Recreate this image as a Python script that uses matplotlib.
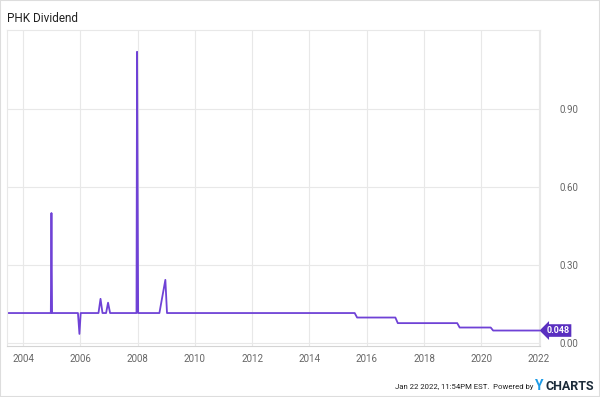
import pandas as pd
import matplotlib
matplotlib.use("Agg")
import matplotlib.pyplot as plt
import matplotlib.dates as mdates
import matplotlib.transforms as mtransforms
from matplotlib.patches import Rectangle

plt.rcParams["font.family"] = ["Roboto", "DejaVu Sans"]

# PHK dividend key points
dates = ["2003-06-01", "2004-12-20", "2004-12-28", "2005-01-05",
         "2005-12-01", "2005-12-20", "2006-01-05",
         "2006-08-20", "2006-09-15", "2006-10-10",
         "2006-11-25", "2006-12-20", "2007-01-15",
         "2007-12-18", "2007-12-25", "2008-01-08",
         "2008-10-05", "2008-12-20", "2009-01-10",
         "2015-08-01", "2015-09-01", "2017-01-01", "2017-02-01",
         "2019-03-01", "2019-04-01", "2020-05-01", "2020-06-01",
         "2022-01-15"]
dividend = [0.1153, 0.1153, 0.50, 0.1153,
            0.1153, 0.035, 0.1153,
            0.1153, 0.17, 0.1153,
            0.1153, 0.155, 0.1153,
            0.1153, 1.12, 0.1153,
            0.1153, 0.243, 0.1153,
            0.1153, 0.098, 0.098, 0.0765,
            0.0765, 0.0596, 0.0596, 0.048,
            0.048]
last_value = 0.048
y_ticks = [0.0, 0.3, 0.6, 0.9]
x_years = list(range(2004, 2023, 2))

dates = pd.to_datetime(dates)

fig = plt.figure(figsize=(6, 3.97), dpi=100)
ax = fig.add_axes([7 / 600, 1 - 346 / 397, 533 / 600, 316 / 397])

ax.plot(dates, dividend, color="#6f42d6", lw=1.3)

ax.set_xlim(pd.Timestamp("2003-06-10"), pd.Timestamp("2022-01-20"))
ax.set_ylim(-0.0115, 1.204)

ax.set_xticks([pd.Timestamp(f"{y}-01-01") for y in x_years])
ax.xaxis.set_major_formatter(mdates.DateFormatter("%Y"))
ax.set_yticks(y_ticks)
ax.set_yticklabels([f"{v:.2f}" for v in y_ticks])
ax.yaxis.tick_right()

ax.grid(True, color="#e8e8e8", lw=0.8)
ax.set_axisbelow(True)
for side in ["top", "left", "right"]:
    ax.spines[side].set_color("#e8e8e8")
ax.spines["bottom"].set_color("#d4d4d4")
ax.tick_params(length=0, labelsize=7, labelcolor="#666666", pad=6)
ax.tick_params(axis="y", pad=14)

# last value tag
trans = mtransforms.blended_transform_factory(ax.transAxes, ax.transData)
ax.text(1.012, last_value, f"{last_value:.3f}", transform=trans, ha="left", va="center",
        fontsize=6.5, fontweight="bold", color="white",
        bbox=dict(boxstyle="larrow,pad=0.2", fc="#5a2fc0", ec="none"))

fig.text(7 / 600, 1 - 18 / 397, "PHK Dividend", fontsize=8.5, color="#222222", va="center")

fig.text(533 / 600, 1 - 387 / 397, "Jan 22 2022, 11:54PM EST.  Powered by",
         fontsize=5.6, color="#222222", ha="right", va="center")
fig.text(535 / 600, 1 - 386 / 397, "Y", fontsize=10, color="#1d9be6",
         fontweight="bold", va="center")
fig.text(546 / 600, 1 - 386 / 397, "CHARTS", fontsize=9, color="#1c2b39",
         fontweight="bold", va="center")

fig.patches.append(Rectangle((0, 0), 1, 1, transform=fig.transFigure, fill=False,
                             ec="#dddddd", lw=1.5))

fig.savefig("out.png", dpi=100)
